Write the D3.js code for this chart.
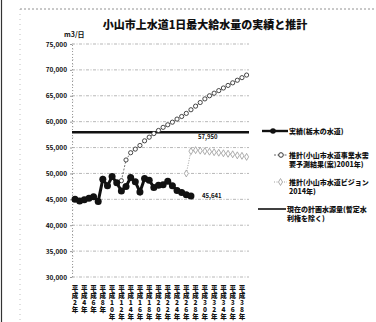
<!DOCTYPE html>
<html>
<head>
<meta charset="utf-8">
<script src="https://cdn.jsdelivr.net/npm/d3@7"></script>
<style>
  html, body { margin: 0; padding: 0; background: #fff; }
  svg { display: block; }
  text { font-family: "Noto Sans CJK JP", "Noto Sans", sans-serif; fill: #111; }
</style>
</head>
<body>
<svg id="chart" width="376" height="322"></svg>
<script>
// 実績 (年度, m3/日)
const actualYears = [1990, 1991, 1992, 1993, 1994, 1995, 1996, 1997, 1998, 1999,
  2000, 2001, 2002, 2003, 2004, 2005, 2006, 2007, 2008, 2009,
  2010, 2011, 2012, 2013, 2014, 2015];
const actualValues = [45000, 44700, 44900, 45200, 45500, 44600, 48900, 47600, 49400, 48200,
  46600, 47500, 49200, 48400, 46400, 49000, 48700, 47300, 47700, 47800,
  48500, 47600, 46700, 46300, 45900, 45641];

// 推計 (小山市水道事業水需要予測結果(案)2001年)
const plan2001Years = [2000, 2001, 2002, 2003, 2004, 2005, 2006, 2007, 2008, 2009,
  2010, 2011, 2012, 2013, 2014, 2015, 2016, 2017, 2018, 2019,
  2020, 2021, 2022, 2023, 2024, 2025, 2026, 2027];
const plan2001Values = [48600, 52600, 54000, 54700, 55400, 56300, 57000, 57700, 58300, 58900,
  59400, 59900, 60500, 61000, 61600, 62300, 63000, 63700, 64400, 65000,
  65500, 66000, 66500, 67000, 67500, 68000, 68500, 69000];

// 推計 (小山市水道ビジョン2014年)
const vision2014Years = [2014, 2015, 2016, 2017, 2018, 2019, 2020, 2021, 2022, 2023,
  2024, 2025, 2026, 2027];
const vision2014Values = [50000, 54300, 54500, 54400, 54300, 54200, 54100, 54000, 53900, 53800,
  53700, 53500, 53400, 53200];

// 現在の計画水源量 (暫定水利権を除く)
const planSourceValue = 57950;

const yTickValues = [30000, 35000, 40000, 45000, 50000, 55000, 60000, 65000, 70000, 75000];
const xTickYears = [1990, 1992, 1994, 1996, 1998, 2000, 2002, 2004, 2006, 2008,
  2010, 2012, 2014, 2016, 2018, 2020, 2022, 2024, 2026];
const xTickLabels = ["平成2年", "平成4年", "平成6年", "平成8年", "平成10年",
  "平成12年", "平成14年", "平成16年", "平成18年", "平成20年",
  "平成22年", "平成24年", "平成26年", "平成28年", "平成30年",
  "平成32年", "平成34年", "平成36年", "平成38年"];

const titleText = "小山市上水道1日最大給水量の実績と推計";
const unitText = "m3/日";
const legendItems = [
  { key: "actual", lines: ["実績(栃木の水道)"] },
  { key: "plan2001", lines: ["推計(小山市水道事業水需", "要予測結果(案)2001年)"] },
  { key: "vision2014", lines: ["推計(小山市水道ビジョン", "2014年)"] },
  { key: "source", lines: ["現在の計画水源量(暫定水", "利権を除く)"] }
];

const svg = d3.select("#chart");
const plotLeft = 72, plotRight = 249;

const x = d3.scaleLinear().domain([1990, 2027]).range([75, 246.6]);
const y = d3.scaleLinear().domain([30000, 75000]).range([277, 44]);
const fmt = d3.format(",");

// chart frame
svg.append("line").attr("x1", 20).attr("x2", 376).attr("y1", 9).attr("y2", 9)
  .attr("stroke", "#777").attr("stroke-width", 0.8).attr("stroke-dasharray", "2,2");
svg.append("line").attr("x1", 20).attr("x2", 20).attr("y1", 9).attr("y2", 322)
  .attr("stroke", "#999").attr("stroke-width", 0.6).attr("stroke-dasharray", "1,4");
svg.append("line").attr("x1", 1.5).attr("x2", 1.5).attr("y1", 0).attr("y2", 322)
  .attr("stroke", "#333").attr("stroke-width", 1.2);

// title
svg.append("text").attr("x", 205).attr("y", 29).attr("text-anchor", "middle")
  .attr("font-size", 11).attr("font-weight", 900).text(titleText);
svg.append("text").attr("x", 64).attr("y", 37).attr("font-size", 7)
  .attr("font-weight", 700).text(unitText);

// gridlines
svg.append("g").selectAll("line").data(yTickValues).join("line")
  .attr("x1", plotLeft).attr("x2", plotRight)
  .attr("y1", d => y(d)).attr("y2", d => y(d))
  .attr("stroke", "#999").attr("stroke-width", 0.7).attr("stroke-dasharray", "3,1.5,1,1.5");

// y axis
const yAxis = svg.append("g").attr("transform", `translate(${plotLeft},0)`)
  .call(d3.axisLeft(y).tickValues(yTickValues).tickFormat(fmt).tickSize(2).tickPadding(3));
yAxis.select(".domain").attr("stroke", "#999").attr("stroke-dasharray", "1,2");
yAxis.selectAll(".tick line").attr("stroke", "#999");
yAxis.selectAll(".tick text").attr("font-family", "'Liberation Sans', Arial, sans-serif")
  .attr("font-size", 6.5).attr("font-weight", 700).attr("fill", "#111");
// minor ticks on the axis
yAxis.append("g").selectAll("line").data(y.ticks(45)).join("line")
  .attr("x1", 0).attr("x2", 1.5).attr("y1", d => y(d)).attr("y2", d => y(d))
  .attr("stroke", "#aaa").attr("stroke-width", 0.6);

// x labels, stacked vertically one character per row
const xl = svg.append("g");
xTickYears.forEach((yr, i) => {
  const chars = Array.from(xTickLabels[i]);
  xl.append("text").attr("text-anchor", "middle").attr("font-size", 6.5).attr("font-weight", 900)
    .selectAll("tspan").data(chars).join("tspan")
    .attr("x", x(yr)).attr("y", (d, j) => 290.5 + j * 7.2)
    .text(d => d);
});

// plan source line
svg.append("line").attr("x1", plotLeft).attr("x2", plotRight)
  .attr("y1", y(planSourceValue)).attr("y2", y(planSourceValue))
  .attr("stroke", "#111").attr("stroke-width", 2.4);
svg.append("text").attr("x", 198).attr("y", y(planSourceValue) + 7)
  .attr("font-size", 6).attr("font-weight", 700).text(fmt(planSourceValue));

const line = d3.line().x(d => x(d[0])).y(d => y(d[1]));

// plan 2001
const p2001 = plan2001Years.map((yr, i) => [yr, plan2001Values[i]]);
svg.append("path").datum(p2001).attr("d", line).attr("fill", "none")
  .attr("stroke", "#555").attr("stroke-width", 0.8).attr("stroke-dasharray", "2,1.5");
svg.append("g").selectAll("circle").data(p2001).join("circle")
  .attr("cx", d => x(d[0])).attr("cy", d => y(d[1])).attr("r", 2.1)
  .attr("fill", "#fff").attr("stroke", "#333").attr("stroke-width", 0.9);

// vision 2014
const v2014 = vision2014Years.map((yr, i) => [yr, vision2014Values[i]]);
svg.append("path").datum(v2014).attr("d", line).attr("fill", "none")
  .attr("stroke", "#888").attr("stroke-width", 0.8).attr("stroke-dasharray", "1,1.5");
svg.append("g").selectAll("path").data(v2014).join("path")
  .attr("transform", d => `translate(${x(d[0])},${y(d[1])})`)
  .attr("d", d3.symbol(d3.symbolDiamond, 14))
  .attr("fill", "#fff").attr("stroke", "#999").attr("stroke-width", 0.8);

// actual
const act = actualYears.map((yr, i) => [yr, actualValues[i]]);
svg.append("path").datum(act).attr("d", line).attr("fill", "none")
  .attr("stroke", "#111").attr("stroke-width", 3);
svg.append("g").selectAll("circle").data(act).join("circle")
  .attr("cx", d => x(d[0])).attr("cy", d => y(d[1])).attr("r", 3.5).attr("fill", "#111");
const lastAct = act[act.length - 1];
svg.append("text").attr("x", x(lastAct[0]) + 11).attr("y", y(lastAct[1]) + 2)
  .attr("font-size", 6).attr("font-weight", 700).text(fmt(lastAct[1]));

// legend
const legendRows = [131, 155, 182, 209];
const lg = svg.append("g");
legendItems.forEach((item, i) => {
  const ly = legendRows[i];
  const g = lg.append("g");
  if (item.key === "actual") {
    g.append("line").attr("x1", 262).attr("x2", 288).attr("y1", ly).attr("y2", ly)
      .attr("stroke", "#111").attr("stroke-width", 2.4);
    g.append("circle").attr("cx", 273).attr("cy", ly).attr("r", 2.8).attr("fill", "#111");
  } else if (item.key === "plan2001") {
    g.append("line").attr("x1", 274).attr("x2", 288).attr("y1", ly).attr("y2", ly)
      .attr("stroke", "#555").attr("stroke-width", 0.9).attr("stroke-dasharray", "2,1.5");
    g.append("circle").attr("cx", 281).attr("cy", ly).attr("r", 2.3)
      .attr("fill", "#fff").attr("stroke", "#333").attr("stroke-width", 1);
  } else if (item.key === "vision2014") {
    g.append("line").attr("x1", 274).attr("x2", 287).attr("y1", ly).attr("y2", ly)
      .attr("stroke", "#888").attr("stroke-width", 0.8).attr("stroke-dasharray", "1,1.5");
    g.append("path").attr("transform", `translate(280.5,${ly})`)
      .attr("d", d3.symbol(d3.symbolDiamond, 14))
      .attr("fill", "#fff").attr("stroke", "#999").attr("stroke-width", 0.8);
  } else {
    g.append("line").attr("x1", 258).attr("x2", 286).attr("y1", ly).attr("y2", ly)
      .attr("stroke", "#111").attr("stroke-width", 1.6);
  }
  const tx = item.key === "source" ? 287 : 289;
  g.append("text").attr("font-size", 7).attr("font-weight", 900)
    .selectAll("tspan").data(item.lines).join("tspan")
    .attr("x", tx).attr("y", (d, j) => ly + 2.5 + j * 9)
    .text(d => d);
});
</script>
</body>
</html>
